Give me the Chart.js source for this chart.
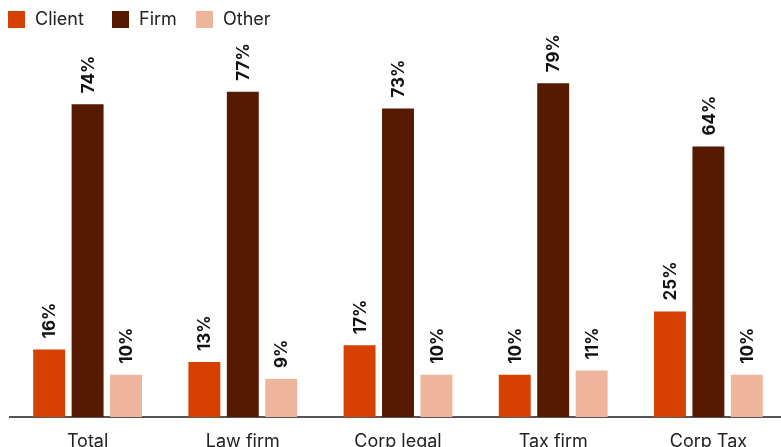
<!DOCTYPE html>
<html>
<head>
<meta charset="utf-8">
<script src="https://cdn.jsdelivr.net/npm/chart.js@4/dist/chart.umd.min.js"></script>
<style>
  html, body { margin: 0; padding: 0; background: #fff; overflow: hidden; }
  #wrap { position: relative; width: 781px; height: 447px; overflow: hidden; }
  #c { position: absolute; left: 0; top: 0; }
  .legend { position: absolute; top: 0; left: 0; font-family: Inter, "Open Sans", sans-serif; font-size: 18px; color: #222; }
  .legend .item { position: absolute; top: 8px; white-space: nowrap; }
  .legend .box { position: absolute; top: 3px; width: 17px; height: 17px; }
  .legend .txt { position: absolute; left: 27px; top: 0; line-height: 22px; }
</style>
</head>
<body>
<div id="wrap">
  <canvas id="c" width="790" height="460" style="width:790px;height:460px"></canvas>
  <div class="legend" id="legend"></div>
</div>
<script>
// Share of responses by segment (%)
const categories = ['Total', 'Law firm', 'Corp legal', 'Tax firm', 'Corp Tax'];
const clientValues = [16, 13, 17, 10, 25];
const firmValues = [74, 77, 73, 79, 64];
const otherValues = [10, 9, 10, 11, 10];
const seriesNames = ['Client', 'Firm', 'Other'];
const seriesColors = ['#D64000', '#561A00', '#EFB49C'];

// HTML legend across the top
const legendX = [8, 112, 196];
const legendEl = document.getElementById('legend');
seriesNames.forEach((name, i) => {
  const item = document.createElement('div');
  item.className = 'item';
  item.style.left = legendX[i] + 'px';
  const box = document.createElement('span');
  box.className = 'box';
  box.style.background = seriesColors[i];
  const txt = document.createElement('span');
  txt.className = 'txt';
  txt.textContent = name;
  item.appendChild(box);
  item.appendChild(txt);
  legendEl.appendChild(item);
});

// Rotated value labels above each bar
const valueLabels = {
  id: 'valueLabels',
  afterDatasetsDraw(chart) {
    const ctx = chart.ctx;
    ctx.save();
    ctx.fillStyle = '#111';
    ctx.font = 'bold 17px Inter, "Open Sans", sans-serif';
    ctx.textAlign = 'left';
    ctx.textBaseline = 'middle';
    chart.data.datasets.forEach((ds, di) => {
      const meta = chart.getDatasetMeta(di);
      meta.data.forEach((bar, i) => {
        ctx.save();
        ctx.translate(bar.x, bar.y - 11);
        ctx.rotate(-Math.PI / 2);
        ctx.fillText(ds.data[i] + '%', 0, 1);
        ctx.restore();
      });
    });
    ctx.restore();
  }
};

const datasets = [clientValues, firmValues, otherValues].map((vals, i) => ({
  label: seriesNames[i],
  data: vals,
  backgroundColor: seriesColors[i],
  borderWidth: 0,
  categoryPercentage: 0.743,
  barPercentage: 0.831
}));

new Chart(document.getElementById('c'), {
  type: 'bar',
  data: { labels: categories, datasets },
  options: {
    responsive: false,
    animation: false,
    devicePixelRatio: 1,
    layout: { padding: { left: 10, right: 4, top: 0, bottom: 0 } },
    plugins: {
      legend: { display: false },
      tooltip: { enabled: false }
    },
    scales: {
      x: {
        grid: { display: false },
        border: { display: true, color: '#555', width: 2 },
        ticks: {
          color: '#222',
          padding: 6,
          font: { family: 'Inter, "Open Sans", sans-serif', size: 18 }
        },
        afterFit(scale) { scale.height = 43; }
      },
      y: {
        display: false,
        min: 0,
        max: 98.7
      }
    }
  },
  plugins: [valueLabels]
});
</script>
</body>
</html>
